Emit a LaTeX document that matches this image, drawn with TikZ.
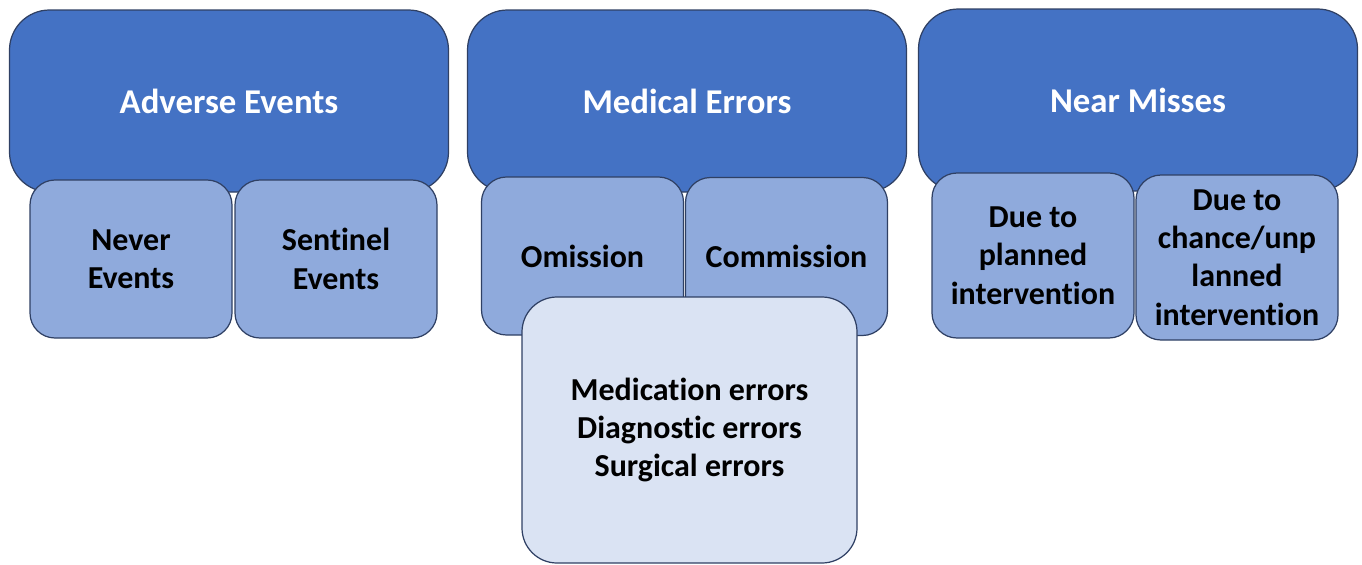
\documentclass[tikz,border=0pt]{standalone}
\usepackage{fontspec}
\setmainfont[Ligatures=NoCommon]{Carlito}
\usepackage{tikz}
\usetikzlibrary{positioning}
\definecolor{topblue}{HTML}{4472C4}
\definecolor{midblue}{HTML}{8FAADC}
\definecolor{paleblue}{HTML}{DAE3F3}
\definecolor{edgeblue}{HTML}{2F4064}
\begin{document}
\begin{tikzpicture}[
box/.style={draw=edgeblue,line width=0.7pt,align=center,inner sep=2pt,
  font=\fontsize{18.2}{21.8}\selectfont\bfseries},
head/.style={box,fill=topblue,text=white,rounded corners=0.8cm,
  minimum width=8.78cm,minimum height=3.64cm,
  font=\fontsize{19.8}{23}\selectfont\bfseries},
sub/.style={box,fill=midblue,text=black,rounded corners=0.5cm,
  minimum width=4.04cm,minimum height=3.16cm},
leaf/.style={box,fill=paleblue,text=black,rounded corners=0.7cm,
  minimum width=6.7cm,minimum height=5.32cm} ]

\useasboundingbox (0,0) rectangle (27.24,-11.28);

\node[head] (AE) at (4.58,-2.02) {Adverse Events};

\node[head] (ME) at (13.74,-2.02) {Medical Errors};

\node[head] (NM) at (22.76,-2.0) {Near Misses};

\node[sub] (NE) at (2.62,-5.18) {Never\\Events};

\node[sub] (SE) at (6.72,-5.18) {Sentinel\\Events};

\node[sub] (OM) at (11.65,-5.12) {Omission};

\node[sub] (CM) at (15.73,-5.13) {Commission};

\node[leaf] (ER) at (13.79,-8.6) {Medication errors\\Diagnostic errors\\Surgical errors};

\node[sub,minimum height=3.3cm] (PI) at (20.66,-5.11) {Due to\\planned\\intervention};

\node[sub,minimum height=3.3cm] (UI) at (24.74,-5.15) {Due to\\chance/unp\\lanned\\intervention};

\end{tikzpicture}
\end{document}
